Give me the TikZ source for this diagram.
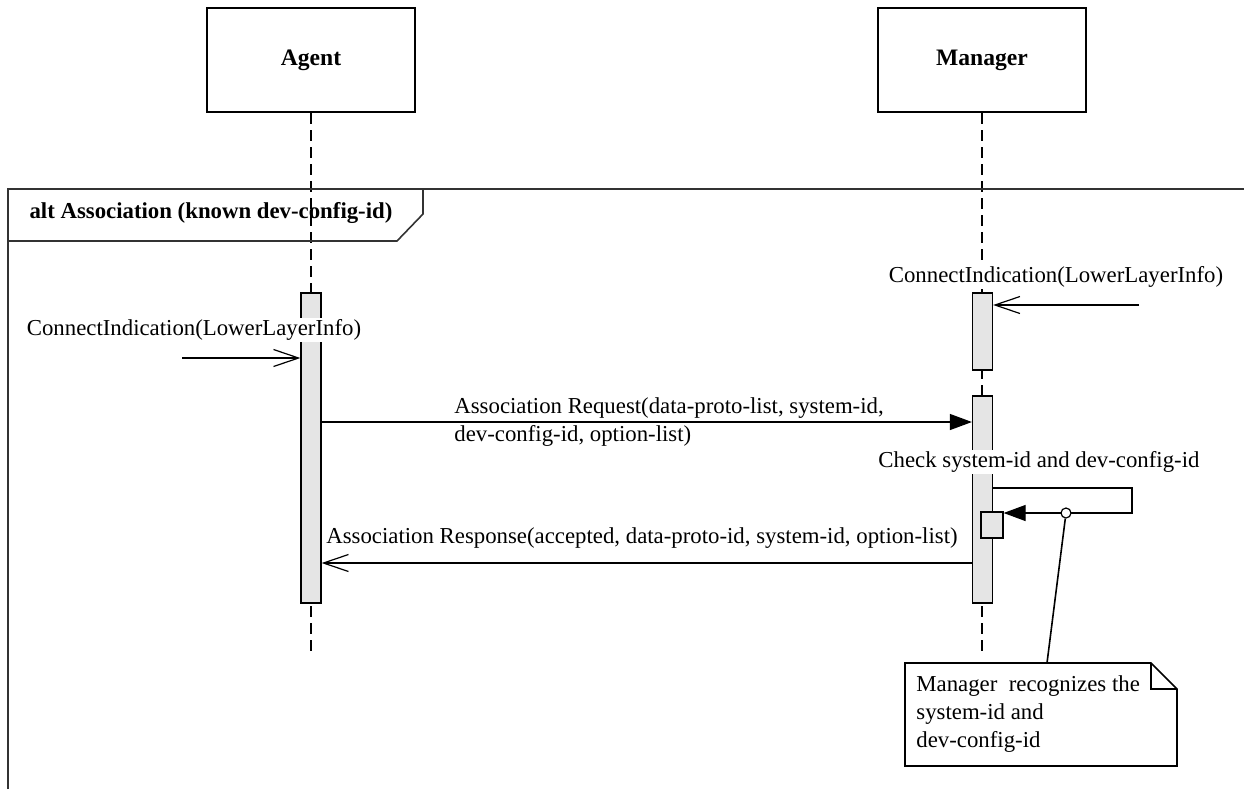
\documentclass[tikz,border=0pt]{standalone}
\usepackage{fontspec}
\setmainfont{Liberation Serif}
\usepackage{tikz}
\usetikzlibrary{arrows.meta}
\tikzset{
	actor/.style={draw,line width=1.3pt,minimum width=104pt,minimum height=52pt,font=\fontsize{11.8}{14}\selectfont\bfseries},
	lifeline/.style={line width=0.8pt,dash pattern=on 5.5pt off 3pt},
	activation/.style={draw,line width=0.6pt,fill=black!10,inner sep=0pt},
	msg/.style={font=\fontsize{11.4}{14}\selectfont,inner sep=1pt},
	sync/.style={-{Triangle[length=11pt,width=8pt]},line width=0.6pt},
	async/.style={-{Straight Barb[length=12.5pt,width=8.5pt]},line width=0.6pt},
	frame/.style={line width=0.8pt,draw=black!80}
}

\begin{document}
\begin{tikzpicture}[x=0.5pt,y=-0.5pt]
	\useasboundingbox (0,0) rectangle (1244,789);
	% lifelines and heads
	\node [actor] (agent) at (311,60) {Agent};
	\node [actor] (manager) at (982,60) {Manager};
	\coordinate (agentend) at (311,652);
	\coordinate (managerend) at (982,652);
	\draw [lifeline] (agent.south) -- (agentend);
	\draw [lifeline] (manager.south) -- (managerend);
	% alt frame
	\draw [frame] (8,789) -- (8,189) -- (1244,189);
	\draw [frame] (8,241) -- (397,241) -- (423,214) -- (423,189);
	\node [msg,font=\fontsize{11.4}{14}\selectfont\bfseries,inner sep=0pt] (alt) at (211,213) {alt Association (known dev-config-id)};
	% activations
	\node [activation,minimum width=10pt,minimum height=155pt] (actA) at (311,448) {};
	\node [activation,minimum width=10pt,minimum height=38.5pt] (actM1) at (982.5,331.5) {};
	\node [activation,minimum width=10pt,minimum height=103.5pt] (actM2) at (982.5,499.5) {};
	\node [activation,minimum width=11pt,minimum height=13pt] (actM3) at (992,525) {};
	% ConnectIndication at manager
	\coordinate (cim) at (1139,305);
	\draw [async] (cim) -- (actM1.east |- cim);
	\node [msg,fill=white] (cimlab) at (1056,277) {ConnectIndication(LowerLayerInfo)};
	% ConnectIndication at agent
	\coordinate (cia) at (182,358);
	\draw [async] (cia) -- (actA.west |- cia);
	\node [msg,fill=white] (cialab) at (194,330) {ConnectIndication(LowerLayerInfo)};
	% association request
	\coordinate (req) at (321,422);
	\draw [sync] (actA.east |- req) -- (actM2.west |- req);
	\node [msg,align=left,anchor=west] (reqlab) at (452,422) {Association Request(data-proto-list, system-id,\\dev-config-id, option-list)};
	% self check
	\coordinate (chk1) at (1132,488);
	\coordinate (chk2) at (1132,513);
	\draw [sync] (actM2.east |- chk1) -- (chk1) -- (chk2) -- (actM3.east |- chk2);
	\node [msg,fill=white] (chklab) at (1039,462) {Check system-id and dev-config-id};
	% association response
	\coordinate (rsp) at (973,563);
	\draw [async] (actM2.west |- rsp) -- (actA.east |- rsp);
	\node [msg] (rsplab) at (642,538) {Association Response(accepted, data-proto-id, system-id, option-list)};
	% note
	\draw [line width=0.8pt] (905,663) -- (1151,663) -- (1177,689) -- (1177,766) -- (905,766) -- cycle;
	\draw [line width=0.8pt] (1151,663) -- (1151,689) -- (1177,689);
	\node [msg,align=left,anchor=north west] (notetxt) at (914,673) {Manager\ \ recognizes the\\system-id and\\dev-config-id};
	\coordinate (noteanchor) at (1047,663);
	\node [circle,draw,fill=white,line width=0.6pt,inner sep=0pt,minimum size=5pt] (dot) at (1066,513) {};
	\draw [line width=0.8pt] (noteanchor) -- (dot);
\end{tikzpicture}
\end{document}
